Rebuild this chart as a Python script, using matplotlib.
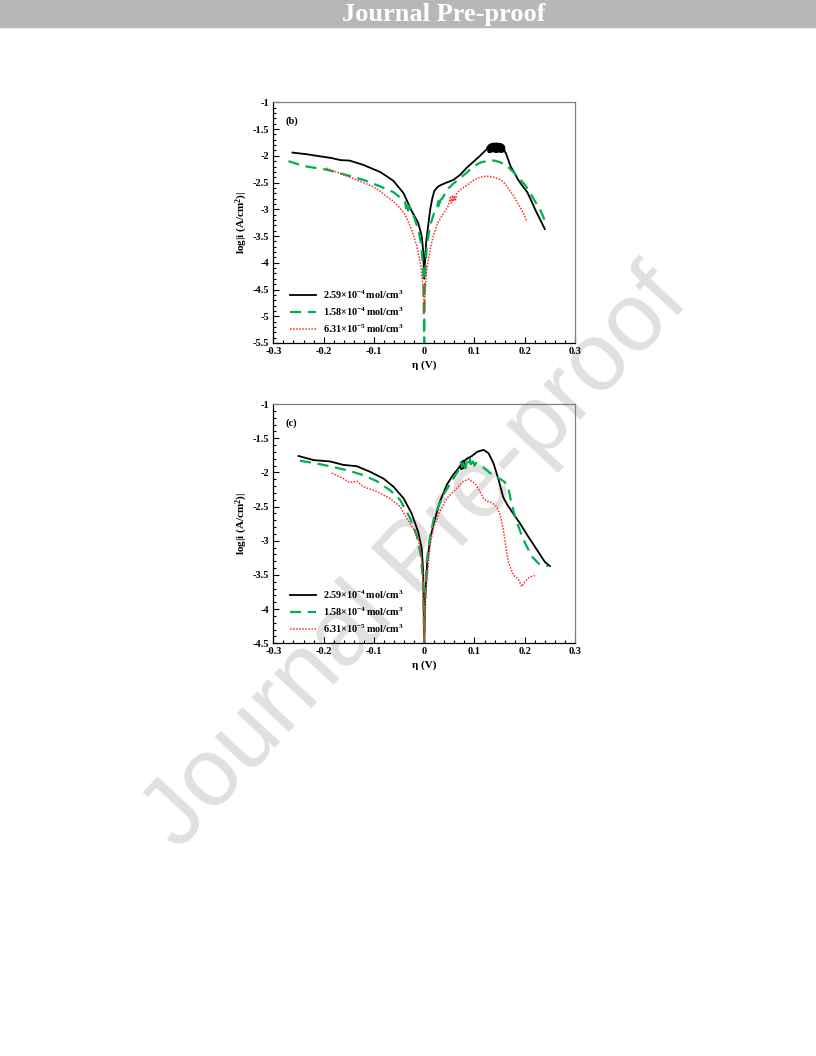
import matplotlib
matplotlib.use('Agg')
import matplotlib.pyplot as plt
from matplotlib.patches import Rectangle
from matplotlib.ticker import MultipleLocator, FuncFormatter

plt.rcParams['font.family'] = ['Liberation Serif', 'DejaVu Serif']
plt.rcParams['font.weight'] = 'bold'
plt.rcParams['axes.labelweight'] = 'bold'
plt.rcParams['mathtext.fontset'] = 'custom'
plt.rcParams['mathtext.rm'] = 'Liberation Serif:bold'
plt.rcParams['mathtext.bf'] = 'Liberation Serif:bold'
plt.rcParams['mathtext.default'] = 'bf'

# ---- values ----
labels = [r'2.59×10$^{-4}\,$mol/cm$^3$',
          r'1.58×10$^{-4}\,$mol/cm$^3$',
          r'6.31×10$^{-5}\,$mol/cm$^3$']

# panel (b)
b_black_eta = [-0.262, -0.234, -0.207, -0.185, -0.167, -0.148, -0.121, -0.101, -0.088, -0.075,
               -0.061, -0.041, -0.025, -0.012, -0.005, -0.002, 0.0, 0.002, 0.004, 0.008,
               0.012, 0.016, 0.020, 0.025, 0.030, 0.042, 0.058, 0.071, 0.085, 0.098,
               0.111, 0.124,
               0.127, 0.128, 0.129, 0.130, 0.131, 0.132, 0.133, 0.134, 0.135, 0.136,
               0.137, 0.138, 0.139, 0.140, 0.141, 0.142, 0.143, 0.144, 0.145, 0.146,
               0.147, 0.148, 0.149, 0.150, 0.151, 0.152, 0.153, 0.154, 0.155, 0.156,
               0.157, 0.158, 0.159, 0.160,
               0.162, 0.167, 0.172, 0.180, 0.187, 0.196, 0.205, 0.213, 0.222, 0.231, 0.240]
b_black_logi = [-1.94, -1.97, -2.01, -2.04, -2.08, -2.09, -2.17, -2.25, -2.30, -2.38,
                -2.47, -2.70, -3.03, -3.25, -3.50, -3.78, -4.30, -3.90, -3.60, -3.30,
                -3.00, -2.80, -2.66, -2.60, -2.56, -2.51, -2.45, -2.36, -2.22, -2.11,
                -2.00, -1.88,
                -1.82, -1.93, -1.80, -1.93, -1.79, -1.93, -1.78, -1.92, -1.78, -1.92,
                -1.77, -1.92, -1.77, -1.92, -1.77, -1.93, -1.77, -1.93, -1.77, -1.93,
                -1.77, -1.92, -1.78, -1.92, -1.78, -1.93, -1.78, -1.93, -1.79, -1.92,
                -1.80, -1.92, -1.82, -1.92,
                -1.94, -2.07, -2.20, -2.33, -2.45, -2.57, -2.68, -2.84, -3.03, -3.20, -3.37]

b_green_eta = [-0.270, -0.250, -0.234, -0.194, -0.154, -0.121, -0.088, -0.061, -0.045, -0.038,
               -0.036, -0.034, -0.032, -0.030, -0.027, -0.020, -0.012, -0.006, -0.002, 0.0,
               0.001, 0.003, 0.005, 0.009, 0.012, 0.018, 0.022, 0.026, 0.028, 0.030,
               0.032, 0.036, 0.045, 0.058, 0.071, 0.085, 0.098, 0.111, 0.127, 0.140,
               0.151, 0.164, 0.177, 0.190, 0.201, 0.211, 0.221, 0.230, 0.236, 0.243]
b_green_logi = [-2.10, -2.16, -2.20, -2.26, -2.36, -2.45, -2.57, -2.68, -2.80, -2.86,
                -2.98, -2.88, -3.02, -2.93, -3.00, -3.15, -3.37, -3.65, -4.10, -5.50,
                -4.50, -4.00, -3.70, -3.45, -3.30, -3.12, -3.00, -2.96, -2.85, -2.98,
                -2.83, -2.80, -2.64, -2.52, -2.42, -2.31, -2.20, -2.13, -2.09, -2.09,
                -2.12, -2.18, -2.30, -2.43, -2.55, -2.70, -2.86, -3.00, -3.12, -3.30]

b_red_eta = [-0.195, -0.167, -0.134, -0.101, -0.088, -0.075, -0.061, -0.048, -0.038, -0.025,
             -0.015, -0.007, -0.002, 0.0, 0.002, 0.005, 0.008, 0.012, 0.018, 0.025,
             0.032, 0.040, 0.047, 0.050, 0.052, 0.054, 0.056, 0.058, 0.060, 0.062,
             0.064, 0.071, 0.085, 0.098, 0.111, 0.125, 0.138, 0.150, 0.157, 0.165,
             0.177, 0.187, 0.194, 0.200, 0.204]
b_red_logi = [-2.23, -2.33, -2.45, -2.58, -2.66, -2.76, -2.85, -2.98, -3.10, -3.38,
              -3.68, -4.03, -4.50, -4.95, -4.50, -4.15, -3.95, -3.75, -3.50, -3.30,
              -3.17, -3.05, -2.95, -2.86, -2.78, -2.88, -2.74, -2.86, -2.76, -2.84,
              -2.72, -2.64, -2.55, -2.46, -2.40, -2.38, -2.40, -2.44, -2.48, -2.58,
              -2.74, -2.90, -3.01, -3.13, -3.24]

# panel (c)
c_black_eta = [-0.250, -0.235, -0.220, -0.187, -0.161, -0.134, -0.108, -0.081, -0.061, -0.041,
               -0.025, -0.012, -0.005, -0.002, 0.0, 0.002, 0.004, 0.006, 0.012, 0.020,
               0.031, 0.045, 0.058, 0.065, 0.072, 0.073, 0.074, 0.075, 0.076, 0.077,
               0.078, 0.079, 0.080, 0.085,
               0.095, 0.105, 0.118, 0.128, 0.138, 0.148, 0.157, 0.165, 0.174, 0.190,
               0.207, 0.224, 0.240, 0.250]
c_black_logi = [-1.76, -1.79, -1.82, -1.84, -1.89, -1.91, -1.99, -2.09, -2.21, -2.38,
                -2.60, -2.87, -3.11, -3.45, -4.50, -3.80, -3.60, -3.31, -2.96, -2.72,
                -2.43, -2.18, -2.03, -1.97, -1.90, -1.95, -1.85, -1.95, -1.84, -1.94,
                -1.83, -1.93, -1.83, -1.80,
                -1.76, -1.70, -1.67, -1.72, -1.87, -2.11, -2.36, -2.47, -2.57, -2.74,
                -2.94, -3.13, -3.31, -3.37]

c_green_eta = [-0.247, -0.214, -0.181, -0.148, -0.121, -0.094, -0.068, -0.048, -0.028, -0.015,
               -0.007, -0.002, 0.0, 0.002, 0.005, 0.012, 0.021, 0.038, 0.058, 0.070,
               0.073, 0.076, 0.079, 0.082, 0.085, 0.088, 0.091, 0.094, 0.097, 0.100,
               0.103, 0.110, 0.118, 0.128, 0.138, 0.150, 0.160, 0.167, 0.172, 0.178,
               0.185, 0.193, 0.201, 0.214, 0.230, 0.247]
c_green_logi = [-1.83, -1.87, -1.92, -1.98, -2.04, -2.13, -2.26, -2.40, -2.67, -2.92,
                -3.21, -3.60, -4.50, -3.90, -3.31, -2.92, -2.62, -2.33, -2.09, -1.95,
                -1.85, -1.92, -1.82, -1.94, -1.84, -1.90, -1.80, -1.93, -1.84, -1.90,
                -1.86, -1.90, -1.93, -1.99, -2.06, -2.09, -2.14, -2.22, -2.40, -2.58,
                -2.74, -2.90, -3.04, -3.23, -3.35, -3.37]

c_red_eta = [-0.184, -0.161, -0.148, -0.134, -0.121, -0.094, -0.068, -0.048, -0.035, -0.022,
             -0.012, -0.005, -0.002, 0.0, 0.002, 0.005, 0.012, 0.018, 0.031, 0.045,
             0.065, 0.078, 0.088, 0.101, 0.111, 0.118, 0.124, 0.134, 0.144, 0.151,
             0.157, 0.161, 0.167, 0.177, 0.187, 0.194, 0.200, 0.210, 0.220]
c_red_logi = [-2.01, -2.09, -2.15, -2.13, -2.21, -2.28, -2.38, -2.50, -2.67, -2.82,
              -2.96, -3.26, -3.60, -4.50, -3.90, -3.60, -3.06, -2.82, -2.57, -2.38,
              -2.23, -2.13, -2.10, -2.16, -2.28, -2.38, -2.42, -2.44, -2.50, -2.62,
              -2.82, -3.02, -3.30, -3.50, -3.56, -3.67, -3.60, -3.53, -3.51]

styles = [dict(color='black', lw=1.3, ls='-'),
          dict(color='#00b050', lw=1.6, dashes=(5, 3)),
          dict(color='#ff2a2a', lw=1.1, dashes=(1, 1))]


def fmt(v, pos):
    return '%g' % (round(v, 2) + 0.0)


def draw_panel(ax, series, ylim, tag):
    for (x, y), st, lab in zip(series, styles, labels):
        ax.plot(x, y, label=lab, **st)
    ax.set_xlim(-0.3, 0.3)
    ax.set_ylim(*ylim)
    ax.set_facecolor('none')
    ax.xaxis.set_major_locator(MultipleLocator(0.1))
    ax.xaxis.set_minor_locator(MultipleLocator(0.02))
    ax.yaxis.set_major_locator(MultipleLocator(0.5))
    ax.yaxis.set_minor_locator(MultipleLocator(0.1))
    ax.xaxis.set_major_formatter(FuncFormatter(fmt))
    ax.yaxis.set_major_formatter(FuncFormatter(fmt))
    ax.tick_params(which='both', direction='in', top=False, right=False,
                   width=0.8, labelsize=7.5, pad=3)
    ax.tick_params(which='major', length=4)
    ax.tick_params(which='minor', length=2.2)
    for s in ['top', 'right']:
        ax.spines[s].set_color('#808080')
    for s in ax.spines.values():
        s.set_linewidth(0.9)
    ax.set_xlabel('η (V)', fontsize=8, labelpad=3)
    ax.set_ylabel('log|i (A/cm$^2$)|', fontsize=8, labelpad=2)
    ax.text(0.04, 0.92, tag, transform=ax.transAxes, fontsize=7.5, va='center')
    ax.legend(loc='lower left', bbox_to_anchor=(0.055, 0.035), frameon=False,
              fontsize=7.3, handlelength=2.6, handletextpad=0.7, labelspacing=0.45,
              borderpad=0, borderaxespad=0)


fig = plt.figure(figsize=(8.16, 10.56), dpi=100)

# header bar
fig.patches.append(Rectangle((0, 1 - 27 / 1056), 1, 27 / 1056, transform=fig.transFigure,
                             color='#b8b7b8', zorder=-5))
fig.text(0.544, 1 - 14 / 1056, 'Journal Pre-proof', color='white', fontsize=19,
         ha='center', va='center', fontweight='bold')

# watermark
fig.text(0.51, 0.47, 'Journal Pre-proof', fontsize=70, color='#e0e0e0', rotation=47,
         ha='center', va='center', family='Liberation Sans', fontweight='normal', zorder=-3)

ax_b = fig.add_axes([0.335, 0.6752, 0.3697, 0.2279])
draw_panel(ax_b, [(b_black_eta, b_black_logi), (b_green_eta, b_green_logi),
                  (b_red_eta, b_red_logi)], (-5.5, -1), '(b)')

ax_c = fig.add_axes([0.335, 0.3908, 0.3697, 0.2266])
draw_panel(ax_c, [(c_black_eta, c_black_logi), (c_green_eta, c_green_logi),
                  (c_red_eta, c_red_logi)], (-4.5, -1), '(c)')

fig.savefig('out.png', dpi=100)
